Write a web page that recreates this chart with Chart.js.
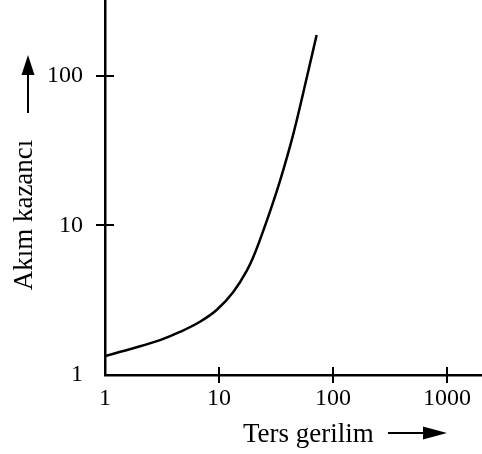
<!DOCTYPE html>
<html>
<head>
<meta charset="utf-8">
<script src="https://cdn.jsdelivr.net/npm/chart.js@4"></script>
<style>
  html, body { margin: 0; padding: 0; background: #fff; }
  #wrap { width: 482px; height: 454px; position: relative; }
</style>
</head>
<body>
<div id="wrap"><canvas id="gainChart"></canvas></div>
<script>
// reverse voltage (x) vs current gain (y), both log
const reverseVoltage = [1, 1.77, 3.04, 4.54, 6.81, 9.53, 13.4, 17.5, 20.0, 26.2, 34.3, 44.8, 58.8, 71.9];
const currentGain = [1.34, 1.51, 1.71, 1.94, 2.27, 2.72, 3.61, 4.97, 6.15, 10.7, 19.9, 40.7, 96.8, 188];
const xTicks = [1, 10, 100, 1000];
const yTicks = [1, 10, 100];
const xTitle = 'Ters gerilim';
const yTitle = 'Akım kazancı';

const SERIF = '"Liberation Serif", "Times New Roman", serif';

// tick marks crossing the axes, titles and arrows
const decorPlugin = {
    id: 'decor',
    afterDraw(chart) {
        const c = chart.ctx;
        const area = chart.chartArea;
        const xs = chart.scales.x, ys = chart.scales.y;
        c.save();
        c.strokeStyle = '#000';
        c.fillStyle = '#000';
        c.lineWidth = 2;
        xTicks.slice(1).forEach(v => {
            const px = Math.round(xs.getPixelForValue(v));
            c.beginPath();
            c.moveTo(px, area.bottom - 8);
            c.lineTo(px, area.bottom + 8);
            c.stroke();
        });
        yTicks.slice(1).forEach(v => {
            const py = Math.round(ys.getPixelForValue(v));
            c.beginPath();
            c.moveTo(area.left - 9, py);
            c.lineTo(area.left + 9, py);
            c.stroke();
        });

        // x title + arrow
        c.font = '27px ' + SERIF;
        c.textAlign = 'left';
        c.textBaseline = 'alphabetic';
        c.fillText(xTitle, 243, 442);
        c.beginPath();
        c.moveTo(388, 433);
        c.lineTo(426, 433);
        c.stroke();
        c.beginPath();
        c.moveTo(447, 433);
        c.lineTo(423, 426.5);
        c.lineTo(423, 439.5);
        c.closePath();
        c.fill();

        // y title + arrow
        c.save();
        c.translate(32, 215);
        c.rotate(-Math.PI / 2);
        c.textAlign = 'center';
        c.fillText(yTitle, 0, 0);
        c.restore();
        c.beginPath();
        c.moveTo(28, 113);
        c.lineTo(28, 72);
        c.stroke();
        c.beginPath();
        c.moveTo(28, 55);
        c.lineTo(21.5, 75);
        c.lineTo(34.5, 75);
        c.closePath();
        c.fill();
        c.restore();
    }
};

new Chart(document.getElementById('gainChart'), {
    type: 'line',
    data: {
        datasets: [{
            data: reverseVoltage.map((x, i) => ({ x: x, y: currentGain[i] })),
            borderColor: '#000',
            borderWidth: 2.5,
            pointRadius: 0,
            fill: false,
            cubicInterpolationMode: 'monotone'
        }]
    },
    options: {
        responsive: true,
        maintainAspectRatio: false,
        animation: false,
        layout: { padding: 0 },
        plugins: {
            legend: { display: false },
            tooltip: { enabled: false }
        },
        scales: {
            x: {
                type: 'logarithmic',
                min: 1,
                max: 2030,
                afterBuildTicks: s => { s.ticks = xTicks.map(v => ({ value: v })); },
                afterFit: s => { s.height = 79; s.paddingLeft = 0; s.paddingRight = 0; },
                grid: { display: false, drawTicks: false },
                border: { display: true, color: '#000', width: 2.5 },
                ticks: {
                    padding: 9,
                    color: '#000',
                    font: { family: SERIF, size: 24 },
                    maxRotation: 0,
                    callback: v => String(v)
                }
            },
            y: {
                type: 'logarithmic',
                min: 1,
                max: 322,
                afterBuildTicks: s => { s.ticks = yTicks.map(v => ({ value: v })); },
                afterFit: s => { s.width = 105; s.paddingTop = 0; s.paddingBottom = 0; },
                grid: { display: false, drawTicks: false },
                border: { display: true, color: '#000', width: 2.5 },
                ticks: {
                    padding: 22,
                    color: '#000',
                    font: { family: SERIF, size: 24 },
                    callback: v => String(v)
                }
            }
        }
    },
    plugins: [decorPlugin]
});
</script>
</body>
</html>
